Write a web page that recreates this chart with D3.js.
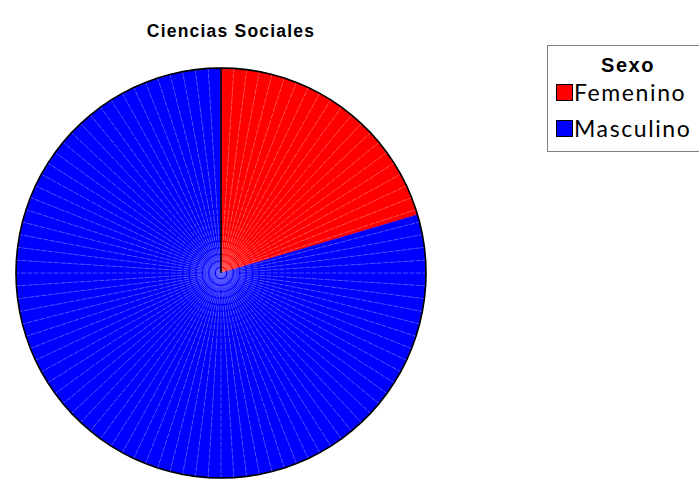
<!DOCTYPE html>
<html lang="es">
<head>
<meta charset="UTF-8">
<script src="https://d3js.org/d3.v7.min.js"></script>
<title>Ciencias Sociales</title>
<style>
    body { margin: 0; background: #fff; }
    svg { display: block; }
</style>
</head>
<body>
<div id="chart"></div>
<script>
    // data
    const categories = ["Femenino", "Masculino"];
    const counts = [10, 39];
    const colors = ["#ff0000", "#0000ff"];
    const title = "Ciencias Sociales";
    const legendTitle = "Sexo";

    const width = 699, height = 485;
    const cx = 221, cy = 273, radius = 205;
    const segments = 100; // the pie is drawn as a polygon of 100 thin wedges

    const svg = d3.select("#chart").append("svg")
        .attr("width", width)
        .attr("height", height);

    svg.append("text")
        .attr("x", 231)
        .attr("y", 37)
        .attr("text-anchor", "middle")
        .style("font-family", "Liberation Sans, Arial, sans-serif")
        .style("font-weight", "bold")
        .style("font-size", "17.5px")
        .style("letter-spacing", "1.2px")
        .text(title);

    const pie = d3.pie().sort(null)(counts);
    const angle = d3.scaleLinear().domain([0, segments]).range([0, 2 * Math.PI]);
    const pt = a => [Math.sin(a) * radius, -Math.cos(a) * radius];

    const g = svg.append("g").attr("transform", `translate(${cx},${cy})`);

    // thin wedges, colored by the slice they fall in
    const wedges = d3.range(segments).map(i => {
        const a0 = angle(i), a1 = angle(i + 1);
        const parts = [];
        pie.forEach((p, k) => {
            const s = Math.max(a0, p.startAngle), e = Math.min(a1, p.endAngle);
            if (e > s) parts.push({ s, e, k });
        });
        return parts;
    }).flat();

    const fills = d3.scaleOrdinal().domain(d3.range(categories.length)).range(colors);
    const lighter = d3.scaleOrdinal().domain(d3.range(categories.length))
        .range(colors.map(c => d3.interpolateRgb(c, "#ffffff")(0.4)));

    g.selectAll("path.wedge")
        .data(wedges)
        .join("path")
        .attr("class", "wedge")
        .attr("d", d => "M0,0L" + pt(d.s) + "L" + pt(d.e) + "Z")
        .attr("fill", d => fills(d.k))
        .attr("stroke", d => fills(d.k))
        .attr("stroke-width", 0.4);

    // faint radial lines between wedges
    g.selectAll("line.sep")
        .data(d3.range(segments))
        .join("line")
        .attr("class", "sep")
        .attr("x1", 0).attr("y1", 0)
        .attr("x2", i => pt(angle(i))[0])
        .attr("y2", i => pt(angle(i))[1])
        .attr("stroke", i => {
            const a = angle(i) + 1e-6;
            const k = pie.findIndex(p => a >= p.startAngle && a < p.endAngle);
            return lighter(k < 0 ? 0 : k);
        })
        .attr("stroke-width", 0.7)
        .attr("stroke-dasharray", "5,1.5");

    // outline polygon
    g.append("path")
        .attr("d", d3.line()(d3.range(segments).map(i => pt(angle(i)))) + "Z")
        .attr("fill", "none")
        .attr("stroke", "#000")
        .attr("stroke-width", 1.6);

    // start line
    g.append("line")
        .attr("x1", 0).attr("y1", 0)
        .attr("x2", pt(pie[0].startAngle)[0])
        .attr("y2", pt(pie[0].startAngle)[1])
        .attr("stroke", "#000")
        .attr("stroke-width", 1.6);

    // legend
    const lg = svg.append("g");
    lg.append("rect")
        .attr("x", 547.5).attr("y", 45.5)
        .attr("width", 160).attr("height", 106)
        .attr("fill", "#fff")
        .attr("stroke", "#7f7f7f")
        .attr("stroke-width", 1);

    lg.append("text")
        .attr("x", 628)
        .attr("y", 72)
        .attr("text-anchor", "middle")
        .style("font-family", "Liberation Sans, Arial, sans-serif")
        .style("font-weight", "bold")
        .style("font-size", "20px")
        .style("letter-spacing", "1.5px")
        .text(legendTitle);

    const items = lg.selectAll("g.item")
        .data(categories)
        .join("g")
        .attr("class", "item")
        .attr("transform", (d, i) => `translate(556,${84 + i * 36})`);

    items.append("rect")
        .attr("x", 0.5).attr("y", 0.5)
        .attr("width", 16).attr("height", 16)
        .attr("fill", (d, i) => colors[i])
        .attr("stroke", "#000")
        .attr("stroke-width", 1);

    items.append("text")
        .attr("x", 18)
        .attr("y", 17)
        .style("font-family", "Lato, Open Sans, sans-serif")
        .style("font-size", "23px")
        .style("letter-spacing", "1.6px")
        .text(d => d);
</script>
</body>
</html>
